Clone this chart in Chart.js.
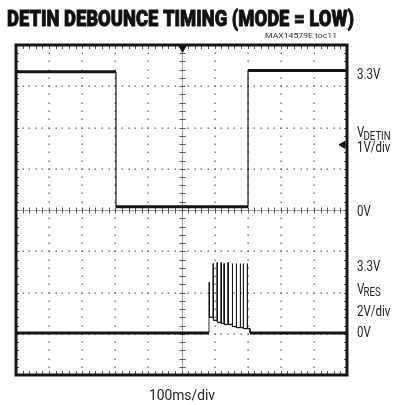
<!DOCTYPE html>
<html>
<head>
<meta charset="utf-8">
<script src="https://cdn.jsdelivr.net/npm/chart.js@4.4.0/dist/chart.umd.min.js"></script>
<style>
  html, body { margin: 0; padding: 0; background: #fff; }
  #scope { display: block; }
</style>
</head>
<body>
<canvas id="scope" width="401" height="405"></canvas>
<script>
// time base 100ms/div, 10 div across; 8 div vertically
const timeMin = 0, timeMax = 1000, divMin = -4, divMax = 4;

// DETIN, 1V/div, 0V on the centre line
const detinTimes = [0, 302, 302, 701, 701, 1000];
const detinVolts = [3.35, 3.35, 0.08, 0.08, 3.38, 3.38];
const detinVoltsPerDiv = 1, detinZeroDiv = 0;

// VRES, 2V/div, 0V three div below centre
const vresBaseVolts = 0.04;
const vresPulseTimes = [583, 595, 607, 619, 628, 640, 653, 665, 677, 686, 698];
const vresPulsePeaks = [2.5, 3.4, 3.45, 3.45, 3.4, 3.45, 3.4, 3.4, 3.4, 3.4, 3.4];
const vresShoulders = [0.8, 0.65, 0.55, 0.5, 0.45, 0.45, 0.35, 0.3, 0.3, 0.25, 0.25];
const vresPulseWidth = 1.5;   // ms
const vresBurstEnd = 707;
const vresVoltsPerDiv = 2, vresZeroDiv = -3;

// scope markers (time, div)
const trigMarker = [{ x: 503, y: 3.92 }];
const chanMarker = [{ x: 988, y: 1.58 }];

const title = 'DETIN DEBOUNCE TIMING (MODE = LOW)';
const partNote = 'MAX14579E toc11';
const timeLabel = '100ms/div';
// [main, subscript, div level]
const sideLabels = [
  ['3.3V', '', 3.3], ['V', 'DETIN', 1.9], ['1V/div', '', 1.55], ['0V', '', 0],
  ['3.3V', '', -1.35], ['V', 'RES', -1.9], ['2V/div', '', -2.43], ['0V', '', -2.95]
];

const detinData = detinTimes.map((t, i) => ({ x: t, y: detinVolts[i] / detinVoltsPerDiv + detinZeroDiv }));

const toVresDiv = v => v / vresVoltsPerDiv + vresZeroDiv;
const vresData = [{ x: timeMin, y: toVresDiv(vresBaseVolts) }];
let prev = vresBaseVolts;
vresPulseTimes.forEach((t, i) => {
  vresData.push({ x: t, y: toVresDiv(prev) });
  vresData.push({ x: t, y: toVresDiv(vresPulsePeaks[i]) });
  vresData.push({ x: t + vresPulseWidth, y: toVresDiv(vresPulsePeaks[i]) });
  vresData.push({ x: t + vresPulseWidth, y: toVresDiv(vresShoulders[i]) });
  prev = vresShoulders[i];
});
vresData.push({ x: vresBurstEnd, y: toVresDiv(prev) });
vresData.push({ x: vresBurstEnd, y: toVresDiv(vresBaseVolts) });
vresData.push({ x: timeMax, y: toVresDiv(vresBaseVolts) });

const vresBaseDiv = toVresDiv(vresBaseVolts);

function fitText(ctx, text, x, y, font, width, stroke) {
  ctx.save();
  ctx.font = font;
  const w = ctx.measureText(text).width;
  ctx.translate(x, y);
  ctx.scale(width / w, 1);
  ctx.textBaseline = 'alphabetic';
  ctx.fillText(text, 0, 0);
  if (stroke) {
    ctx.lineWidth = stroke;
    ctx.strokeStyle = ctx.fillStyle;
    ctx.lineJoin = 'round';
    ctx.strokeText(text, 0, 0);
  }
  ctx.restore();
}

const scopeGrid = {
  id: 'scopeGrid',
  beforeDatasetsDraw(chart) {
    const { ctx, chartArea: a, scales: { x, y } } = chart;
    ctx.save();
    // dotted graticule
    ctx.fillStyle = '#666';
    for (let t = 100; t < 1000; t += 100) {
      if (t === 500) continue;
      const px = Math.round(x.getPixelForValue(t));
      for (let i = 1; i < 40; i++) {
        const py = Math.round(y.getPixelForValue(divMin + i * 0.2));
        ctx.fillRect(px - 0.5, py - 0.5, 1.3, 1.5);
      }
    }
    for (let d = -3; d <= 3; d++) {
      if (d === 0) continue;
      const py = Math.round(y.getPixelForValue(d));
      for (let i = 1; i < 50; i++) {
        const px = Math.round(x.getPixelForValue(i * 20));
        ctx.fillRect(px - 0.5, py - 0.5, 1.5, 1.3);
      }
    }
    // centre cross with minor ticks
    const cx = Math.round(x.getPixelForValue(500)) + 0.5;
    const cy = Math.round(y.getPixelForValue(0)) + 0.5;
    ctx.strokeStyle = '#9a9a9a';
    ctx.lineWidth = 1;
    ctx.beginPath();
    ctx.moveTo(cx, a.top); ctx.lineTo(cx, a.bottom);
    ctx.moveTo(a.left, cy); ctx.lineTo(a.right, cy);
    ctx.stroke();
    ctx.strokeStyle = '#555';
    ctx.beginPath();
    for (let i = 1; i < 40; i++) {
      const py = Math.round(y.getPixelForValue(divMin + i * 0.2)) + 0.5;
      ctx.moveTo(cx - 3, py); ctx.lineTo(cx + 3, py);
      ctx.moveTo(a.left, py); ctx.lineTo(a.left + 3, py);
      ctx.moveTo(a.right - 3, py); ctx.lineTo(a.right, py);
    }
    for (let i = 1; i < 50; i++) {
      const px = Math.round(x.getPixelForValue(i * 20)) + 0.5;
      ctx.moveTo(px, cy - 3); ctx.lineTo(px, cy + 3);
      ctx.moveTo(px, a.top); ctx.lineTo(px, a.top + 4);
      ctx.moveTo(px, a.bottom - 4); ctx.lineTo(px, a.bottom);
    }
    ctx.stroke();
    ctx.restore();
  },
  afterDatasetsDraw(chart) {
    const { ctx, chartArea: a } = chart;
    ctx.save();
    ctx.strokeStyle = '#161616';
    ctx.lineWidth = 3;
    ctx.strokeRect(a.left, a.top, a.right - a.left, a.bottom - a.top);
    ctx.restore();
  },
  afterDraw(chart) {
    const { ctx, chartArea: a, scales: { y } } = chart;
    ctx.save();
    ctx.fillStyle = '#111';
    fitText(ctx, title, 7, 26, '900 22.5px Roboto, "Liberation Sans", sans-serif', 347, 0.9);
    ctx.fillStyle = '#333';
    fitText(ctx, partNote, 265, 38, '8px "Liberation Sans Narrow", Roboto, sans-serif', 72);
    ctx.fillStyle = '#222';
    fitText(ctx, timeLabel, 149, 400, '14px "Liberation Sans Narrow", Roboto, sans-serif', 66);
    // side labels share one condensing factor
    const font = '15px "Liberation Sans Narrow", Roboto, sans-serif';
    const subFont = '12.5px "Liberation Sans Narrow", Roboto, sans-serif';
    ctx.font = font;
    const s = 23.3 / ctx.measureText('3.3V').width;
    const lx = a.right + 10;
    sideLabels.forEach(([txt, sub, lvl]) => {
      const by = y.getPixelForValue(lvl) + 5.5;
      ctx.save();
      ctx.translate(lx, by);
      ctx.scale(s, 1);
      ctx.font = font;
      ctx.fillText(txt, 0, 0);
      if (sub) {
        const w = ctx.measureText(txt).width;
        ctx.font = subFont;
        ctx.fillText(sub, w - 1, 2.5);
      }
      ctx.restore();
    });
    ctx.restore();
  }
};

const ctxScope = document.getElementById('scope').getContext('2d');
new Chart(ctxScope, {
  type: 'line',
  data: {
    datasets: [
      {
        label: 'VDETIN',
        data: detinData,
        borderColor: '#141414',
        borderWidth: 3,
        pointRadius: 0,
        segment: { borderWidth: c => (Math.abs(c.p0.x - c.p1.x) < 0.5 ? 1.2 : 3) }
      },
      {
        label: 'VRES',
        data: vresData,
        borderColor: '#141414',
        borderWidth: 3,
        pointRadius: 0,
        segment: {
          borderWidth: c => {
            if (Math.abs(c.p0.x - c.p1.x) < 0.5) return 0.9;
            const base = c.p0.parsed.y <= vresBaseDiv + 0.01 && c.p1.parsed.y <= vresBaseDiv + 0.01;
            return base ? 3 : 1.3;
          }
        }
      },
      {
        label: 'trig',
        data: trigMarker,
        showLine: false,
        pointStyle: 'triangle',
        rotation: 180,
        pointRadius: 4,
        backgroundColor: '#111',
        borderColor: '#111',
        borderWidth: 1
      },
      {
        label: 'chan',
        data: chanMarker,
        showLine: false,
        pointStyle: 'triangle',
        rotation: -90,
        pointRadius: 4,
        backgroundColor: '#111',
        borderColor: '#111',
        borderWidth: 1
      }
    ]
  },
  options: {
    responsive: false,
    animation: false,
    devicePixelRatio: 1,
    layout: { padding: { left: 16, right: 54, top: 45, bottom: 30 } },
    plugins: { legend: { display: false }, tooltip: { enabled: false }, title: { display: false } },
    scales: {
      x: { type: 'linear', min: timeMin, max: timeMax, display: false },
      y: { type: 'linear', min: divMin, max: divMax, display: false }
    }
  },
  plugins: [scopeGrid]
});
</script>
</body>
</html>
